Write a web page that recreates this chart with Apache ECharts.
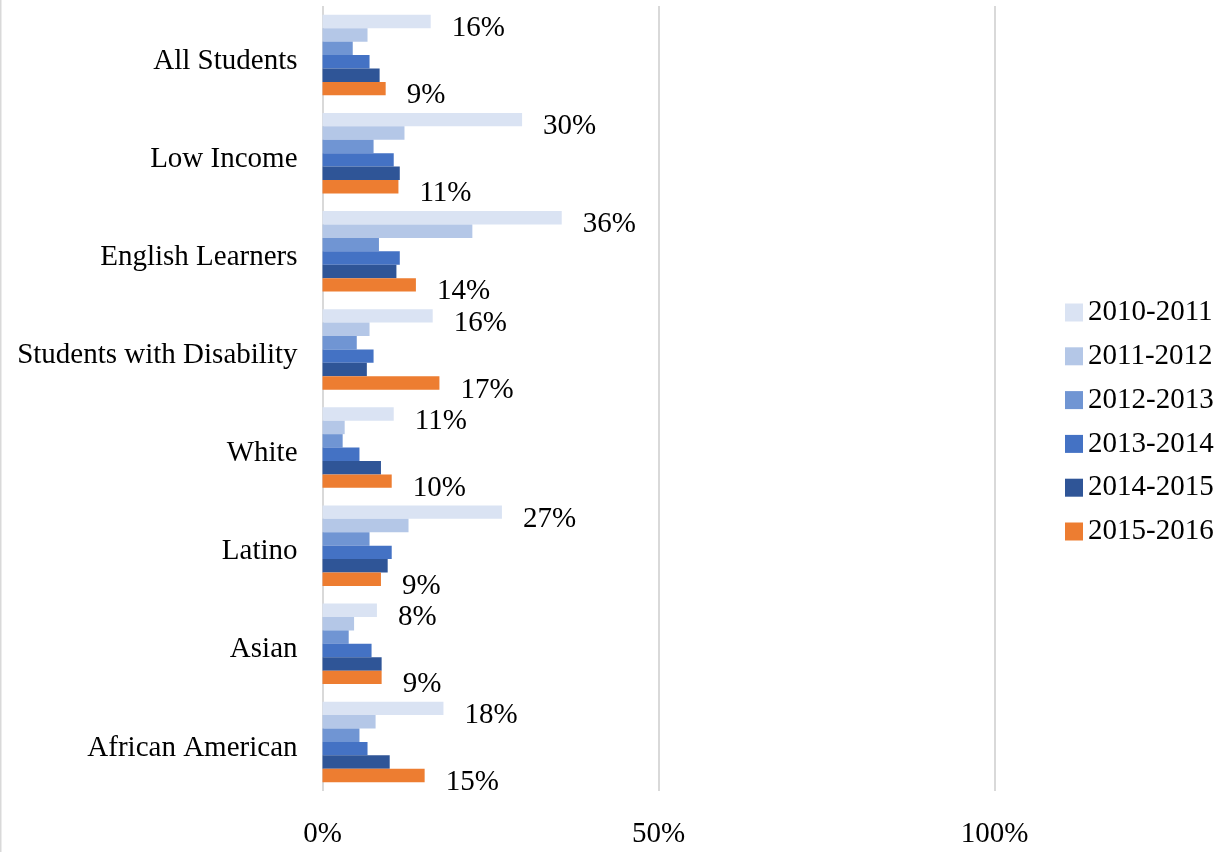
<!DOCTYPE html>
<html>
<head>
<meta charset="utf-8">
<script src="https://cdn.jsdelivr.net/npm/echarts@6/dist/echarts.min.js"></script>
<style>
  html, body { margin: 0; padding: 0; background: #fff; }
  #chart { width: 1225px; height: 852px; }
</style>
</head>
<body>
<div id="chart"></div>
<script>
// Student groups, listed top to bottom
const categories = ['All Students', 'Low Income', 'English Learners', 'Students with Disability', 'White', 'Latino', 'Asian', 'African American'];

// School years (one series each)
const years = ['2010-2011', '2011-2012', '2012-2013', '2013-2014', '2014-2015', '2015-2016'];

// Rates in percent, per group, for each school year
const y2010 = [16.1, 29.7, 35.6, 16.4, 10.6, 26.7, 8.1, 18.0];
const y2011 = [6.7, 12.2, 22.3, 7.0, 3.3, 12.8, 4.7, 7.9];
const y2012 = [4.5, 7.6, 8.4, 5.1, 3.0, 7.0, 3.9, 5.5];
const y2013 = [7.0, 10.6, 11.5, 7.6, 5.5, 10.3, 7.3, 6.7];
const y2014 = [8.5, 11.5, 11.0, 6.6, 8.7, 9.7, 8.8, 10.0];
const y2015 = [9.4, 11.3, 13.9, 17.4, 10.3, 8.7, 8.8, 15.2];

const xTicks = { min: 0, max: 100, interval: 50 };

const seriesValues = [y2010, y2011, y2012, y2013, y2014, y2015];
const colors = ['#dae3f3', '#b4c7e7', '#7095d3', '#4472c4', '#2f5597', '#ed7d31'];
const labelled = [true, false, false, false, false, true];

const FONT = '"Liberation Serif", "Times New Roman", serif';
const FS = 29;

const chart = echarts.init(document.getElementById('chart'), null, { renderer: 'canvas' });

const series = years.map((name, i) => ({
  name: name,
  type: 'bar',
  data: seriesValues[i],
  barGap: '0%',
  barCategoryGap: '18%',
  itemStyle: { color: colors[i] },
  label: {
    show: labelled[i],
    position: 'right',
    distance: 21,
    offset: [0, 7],
    formatter: p => Math.round(p.value) + '%',
    fontFamily: FONT,
    fontSize: FS,
    color: '#000'
  },
  emphasis: { disabled: true },
  animation: false
}));

chart.setOption({
  backgroundColor: '#fff',
  animation: false,
  textStyle: { fontFamily: FONT },
  grid: { left: 322.5, right: 230.5, top: 6, bottom: 61, containLabel: false },
  xAxis: {
    type: 'value',
    min: xTicks.min,
    max: xTicks.max,
    interval: xTicks.interval,
    axisLine: { show: false },
    axisTick: { show: false },
    axisLabel: {
      formatter: '{value}%',
      fontFamily: FONT,
      fontSize: FS,
      color: '#000',
      margin: 29
    },
    splitLine: { show: true, lineStyle: { color: '#d9d9d9', width: 2 } }
  },
  yAxis: {
    type: 'category',
    data: categories,
    inverse: true,
    axisLine: { show: false },
    axisTick: { show: false },
    axisLabel: {
      formatter: v => '{g|' + v + '}',
      margin: 25,
      rich: {
        g: {
          fontFamily: FONT,
          fontSize: FS,
          color: '#000',
          padding: [12, 0, 0, 0]
        }
      }
    }
  },
  legend: {
    orient: 'vertical',
    left: 1065,
    top: 298,
    itemWidth: 18,
    itemHeight: 18,
    itemGap: 14.8,
    padding: 0,
    icon: 'rect',
    data: years,
    textStyle: { fontFamily: FONT, fontSize: FS, color: '#000' }
  },
  graphic: [{
    type: 'line',
    shape: { x1: 0.75, y1: 0, x2: 0.75, y2: 852 },
    style: { stroke: '#d9d9d9', lineWidth: 1.5 },
    silent: true
  }],
  series: series
});
</script>
</body>
</html>
